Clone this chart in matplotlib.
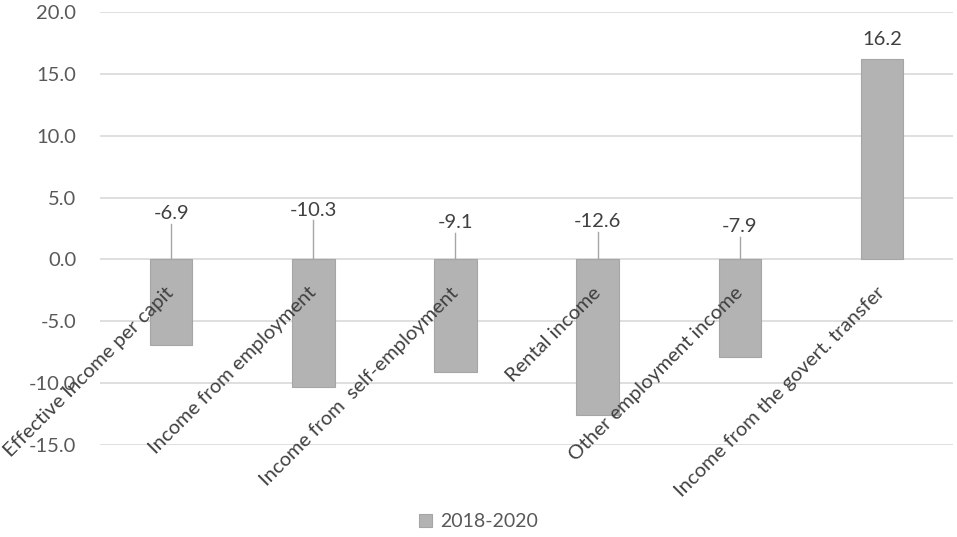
import matplotlib.pyplot as plt
import numpy as np

# categories and values
categories = ['Effective Income per capit', 'Income from employment',
              'Income from  self-employment', 'Rental income',
              'Other employment income', 'Income from the govert. transfer']
values = [-6.9, -10.3, -9.1, -12.6, -7.9, 16.2]
# height where each data label sits (Excel moved the negative ones above zero)
label_y = [3.0, 3.3, 2.3, 2.4, 2.0, 17.1]
series_name = '2018-2020'
yticks = [-15, -10, -5, 0, 5, 10, 15, 20]

plt.rcParams['font.family'] = ['Lato', 'DejaVu Sans']

fig = plt.figure(figsize=(9.57, 5.37), dpi=100)
ax = fig.add_axes([0.1045, 0.1713, 0.8915, 0.8064])

x = np.arange(len(categories))
bars = ax.bar(x, values, width=0.3, color='#b3b3b3', edgecolor='#a5a5a5',
              linewidth=0.8, label=series_name, zorder=3)

ax.set_xlim(-0.5, len(categories) - 0.5)
ax.set_ylim(-15, 20)
ax.set_yticks(yticks)
ax.set_yticklabels(['%.1f' % t for t in yticks], fontsize=14.5, color='#595959')
ax.tick_params(axis='y', length=0, pad=17)
ax.set_xticks([])
ax.grid(axis='y', color='#d9d9d9', linewidth=1.2, zorder=0)
for s in ax.spines.values():
    s.set_visible(False)

# data labels with leader lines
for i, (v, ly) in enumerate(zip(values, label_y)):
    ax.text(i, ly, '%.1f' % v, ha='center', va='bottom', fontsize=14.5,
            color='#404040', zorder=5)
    if v < 0:
        ax.plot([i, i], [0, ly - 0.15], color='#a6a6a6', linewidth=1, zorder=4)

# category labels, rotated 45 deg ending at the zero line
for i, c in enumerate(categories):
    ax.annotate(c, xy=(i, 0), xytext=(0, -22), textcoords='offset points',
                ha='right', va='center', rotation=45, rotation_mode='anchor',
                fontsize=14.5, color='#404040', zorder=6)

leg = fig.legend(handles=[bars], labels=[series_name], loc='lower center',
                 bbox_to_anchor=(0.5, -0.02), frameon=False, fontsize=14,
                 handlelength=0.7, handleheight=0.7, handletextpad=0.4)
for t in leg.get_texts():
    t.set_color('#595959')

fig.savefig('out.png', dpi=100)
